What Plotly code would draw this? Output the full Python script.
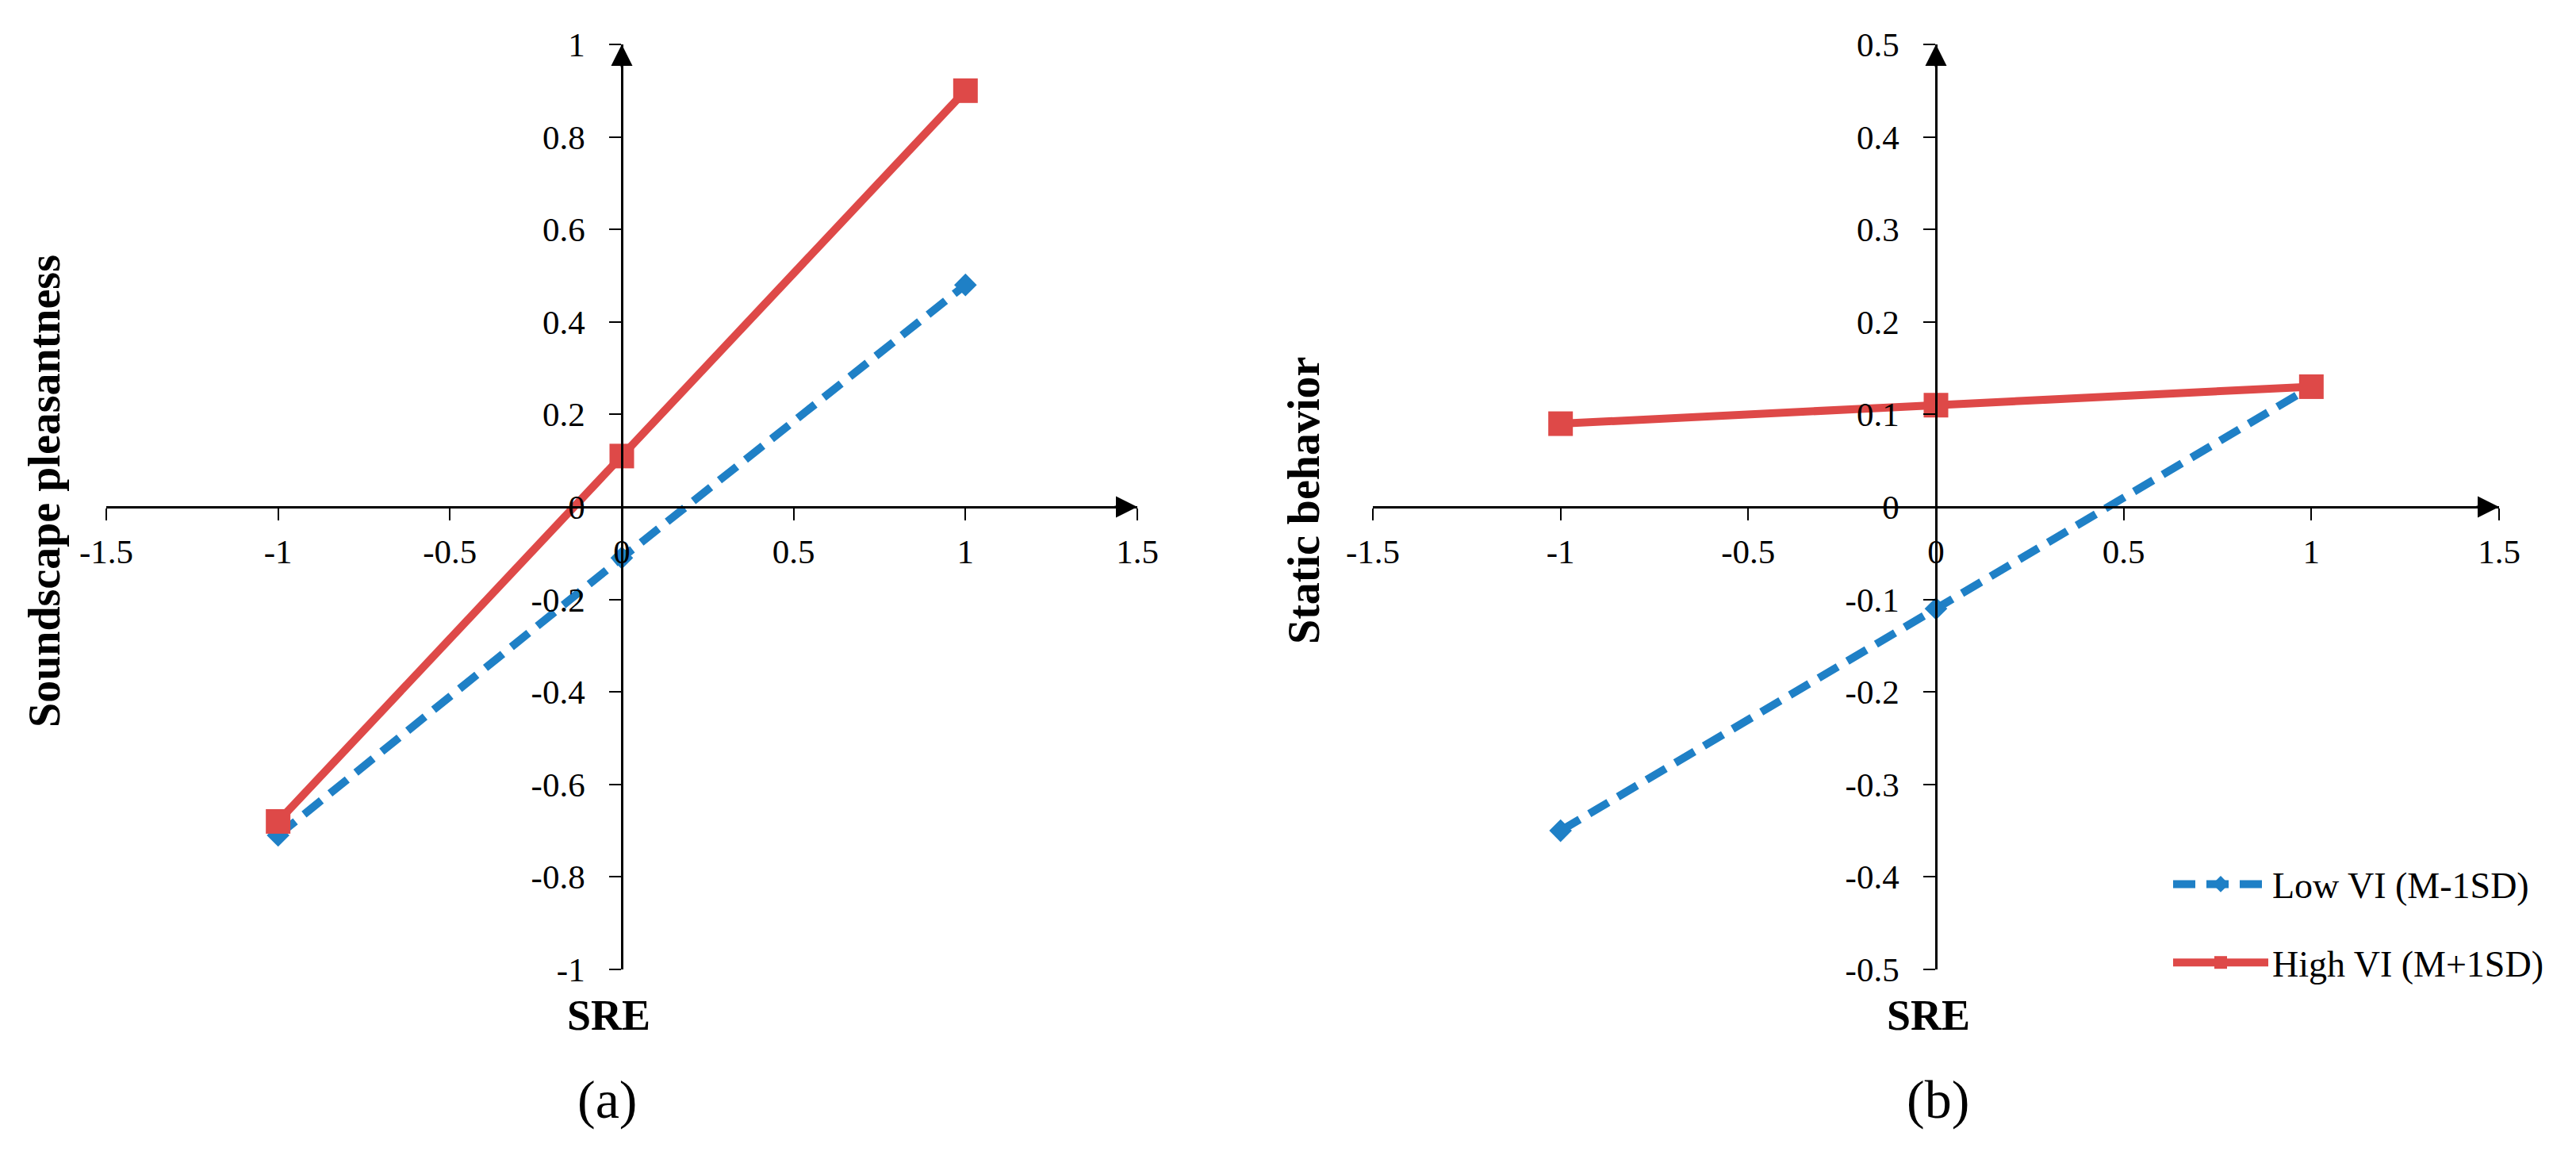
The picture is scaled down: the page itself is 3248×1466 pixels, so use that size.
import plotly.graph_objects as go

# ---------------- data ----------------
SRE = [-1, 0, 1]
LOW_A = [-0.71, -0.11, 0.48]     # Soundscape pleasantness, Low VI
HIGH_A = [-0.68, 0.11, 0.90]     # Soundscape pleasantness, High VI
LOW_B = [-0.35, -0.11, 0.13]     # Static behavior, Low VI
HIGH_B = [0.09, 0.11, 0.13]      # Static behavior, High VI
SERIES_NAMES = ["Low VI (M-1SD)", "High VI (M+1SD)"]

X_TICKS = [-1.5, -1, -0.5, 0, 0.5, 1, 1.5]
X_TICK_TEXT = ["-1.5", "-1", "-0.5", "0", "0.5", "1", "1.5"]
YA_TICKS = [-1, -0.8, -0.6, -0.4, -0.2, 0, 0.2, 0.4, 0.6, 0.8, 1]
YA_TICK_TEXT = ["-1", "-0.8", "-0.6", "-0.4", "-0.2", "0", "0.2", "0.4", "0.6", "0.8", "1"]
YB_TICKS = [-0.5, -0.4, -0.3, -0.2, -0.1, 0, 0.1, 0.2, 0.3, 0.4, 0.5]
YB_TICK_TEXT = ["-0.5", "-0.4", "-0.3", "-0.2", "-0.1", "0", "0.1", "0.2", "0.3", "0.4", "0.5"]

Y_TITLES = ["Soundscape pleasantness", "Static behavior"]
X_TITLE = "SRE"
PANEL_LABELS = ["(a)", "(b)"]

# ---------------- style ----------------
W, H = 3248, 1466
FONT = "Liberation Serif, Times New Roman, serif"
BLUE = "#1F80C6"
RED = "#DE4948"
LINE_W = 10

XA_DOM = [126 / W, 1426 / W]
XB_DOM = [1723 / W, 3143 / W]
Y_DOM = [1 - 1214 / H, 1 - 48 / H]
Y_MID = (Y_DOM[0] + Y_DOM[1]) / 2
XA_MID = (XA_DOM[0] + XA_DOM[1]) / 2
XB_MID = (XB_DOM[0] + XB_DOM[1]) / 2

fig = go.Figure()

panels = [("x", "y", LOW_A, HIGH_A, True), ("x2", "y2", LOW_B, HIGH_B, False)]
for xa, ya, low, high, show in panels:
    fig.add_trace(go.Scatter(
        x=SRE, y=low, xaxis=xa, yaxis=ya, mode="lines+markers",
        name=SERIES_NAMES[0], legendgroup="low", showlegend=show,
        line=dict(color=BLUE, width=LINE_W, dash="28px,14px"),
        marker=dict(symbol="diamond", size=22, color=BLUE),
        cliponaxis=False,
    ))
    fig.add_trace(go.Scatter(
        x=SRE, y=high, xaxis=xa, yaxis=ya, mode="lines+markers",
        name=SERIES_NAMES[1], legendgroup="high", showlegend=show,
        line=dict(color=RED, width=LINE_W),
        marker=dict(symbol="square", size=31, color=RED),
        cliponaxis=False,
    ))

tickfont = dict(family=FONT, size=43, color="black")


def xaxis_cfg(dom):
    return dict(
        domain=dom, range=[-1.5, 1.5], anchor="free", position=Y_MID,
        tickvals=X_TICKS, ticktext=X_TICK_TEXT, tickfont=tickfont,
        showline=True, linecolor="black", linewidth=3,
        ticks="outside", ticklen=15, tickwidth=2, tickcolor="black",
        ticklabelstandoff=2, automargin=False,
        showgrid=False, zeroline=False, fixedrange=True,
    )


def yaxis_cfg(rng, vals, text, pos):
    return dict(
        domain=Y_DOM, range=rng, anchor="free", position=pos,
        tickvals=vals, ticktext=text, tickfont=tickfont,
        showline=True, linecolor="black", linewidth=2.5,
        ticks="outside", ticklen=15, tickwidth=2, tickcolor="black",
        ticklabelstandoff=22, automargin=False,
        showgrid=False, zeroline=False, fixedrange=True,
    )


fig.update_layout(
    width=W, height=H,
    margin=dict(l=0, r=0, t=0, b=0, autoexpand=False),
    paper_bgcolor="white", plot_bgcolor="white",
    xaxis=xaxis_cfg(XA_DOM),
    yaxis=yaxis_cfg([-1, 1], YA_TICKS, YA_TICK_TEXT, XA_MID),
    xaxis2=xaxis_cfg(XB_DOM),
    yaxis2=yaxis_cfg([-0.5, 0.5], YB_TICKS, YB_TICK_TEXT, XB_MID),
    showlegend=True,
    legend=dict(
        x=2727 / W, y=1 - 1070 / H, xanchor="left", yanchor="top",
        font=dict(family=FONT, size=46, color="black"),
        bgcolor="rgba(0,0,0,0)", traceorder="grouped", tracegroupgap=36,
        itemwidth=120,
    ),
)

annotations = []
# axis arrowheads
for xr, yr, ytop in [("x", "y", 1), ("x2", "y2", 0.5)]:
    annotations.append(dict(x=1.5, y=0, xref=xr, yref=yr, ax=-30, ay=0,
                            axref="pixel", ayref="pixel", text="", showarrow=True,
                            arrowhead=2, arrowsize=1.8, arrowwidth=3, arrowcolor="black"))
    annotations.append(dict(x=0, y=ytop, xref=xr, yref=yr, ax=0, ay=30,
                            axref="pixel", ayref="pixel", text="", showarrow=True,
                            arrowhead=2, arrowsize=1.8, arrowwidth=3, arrowcolor="black"))

# y-axis titles
annotations.append(dict(text="<b>%s</b>" % Y_TITLES[0], x=48 / W, y=1 - 611 / H,
                        xref="paper", yref="paper", textangle=-90, showarrow=False,
                        xanchor="center", yanchor="middle",
                        font=dict(family=FONT, size=56, color="black")))
annotations.append(dict(text="<b>%s</b>" % Y_TITLES[1], x=1636 / W, y=1 - 623 / H,
                        xref="paper", yref="paper", textangle=-90, showarrow=False,
                        xanchor="center", yanchor="middle",
                        font=dict(family=FONT, size=56, color="black")))
# x-axis titles and panel labels
for cx_sre, cx_lab, lab in [(759, 757, PANEL_LABELS[0]), (2423, 2435, PANEL_LABELS[1])]:
    annotations.append(dict(text="<b>%s</b>" % X_TITLE, x=cx_sre / W, y=1 - 1272 / H,
                            xref="paper", yref="paper", showarrow=False,
                            xanchor="center", yanchor="middle",
                            font=dict(family=FONT, size=54, color="black")))
    annotations.append(dict(text=lab, x=cx_lab / W, y=1 - 1378 / H,
                            xref="paper", yref="paper", showarrow=False,
                            xanchor="center", yanchor="middle",
                            font=dict(family=FONT, size=68, color="black")))

fig.update_layout(annotations=annotations)

fig.write_html("out.html")
